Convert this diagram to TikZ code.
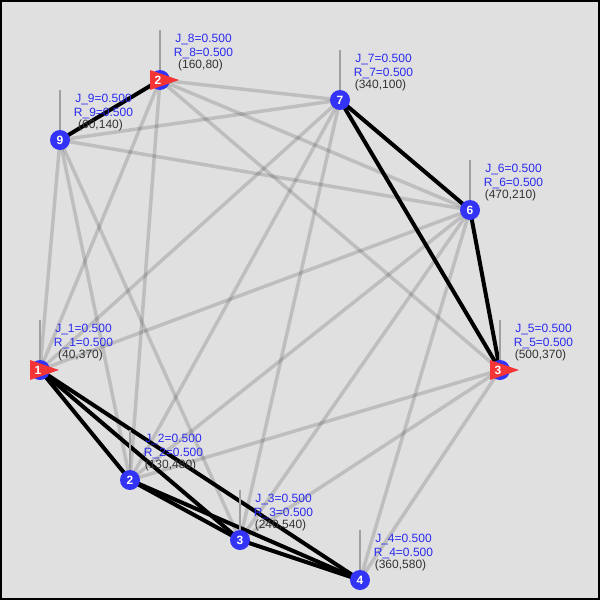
\documentclass[tikz,border=0pt]{standalone}
\usepackage{fontspec}
\setmainfont{Liberation Sans}
\definecolor{bgcol}{HTML}{E0E0E0}
\definecolor{nodeblue}{HTML}{3333F5}
\definecolor{flagred}{HTML}{F53535}
\definecolor{labelblue}{HTML}{2A2AF0}
\definecolor{tickgray}{HTML}{A0A0A0}
\definecolor{xytext}{HTML}{333333}
\pgfdeclarelayer{backdrop}
\pgfdeclarelayer{edges}
\pgfsetlayers{backdrop,edges,main}
\begin{document}
\begin{tikzpicture}[x=1pt,y=-1pt,
  vtx/.style={circle, fill=nodeblue, minimum size=20pt, inner sep=0pt, text=white,
    font=\bfseries\fontsize{12}{12}\selectfont},
  grayedge/.style={line width=3.5pt, draw=black, draw opacity=0.15},
  blackedge/.style={line width=4pt, draw=black},
  tickline/.style={line width=1.3pt, draw=tickgray},
  flagnum/.style={inner sep=0pt, text=white, font=\bfseries\fontsize{12}{12}\selectfont},
  jrtext/.style={inner sep=0pt, anchor=base, text=labelblue, font=\fontsize{12}{12}\selectfont},
  xytxt/.style={inner sep=0pt, anchor=base, text=xytext, font=\fontsize{12}{12}\selectfont}]
\useasboundingbox (0,0) rectangle (600,600);
\begin{pgfonlayer}{backdrop}
  \fill[bgcol] (0,0) rectangle (600,600);
  \draw[line width=2pt] (1,1) rectangle (599,599);
\end{pgfonlayer}

% nodes
\node[vtx] (n1) at (40,370) {};
\node[vtx] (n2) at (130,480) {2};
\node[vtx] (n3) at (240,540) {3};
\node[vtx] (n4) at (360,580) {4};
\node[vtx] (n5) at (500,370) {};
\node[vtx] (n6) at (470,210) {6};
\node[vtx] (n7) at (340,100) {7};
\node[vtx] (n8) at (160,80) {};
\node[vtx] (n9) at (60,140) {9};

\begin{pgfonlayer}{edges}
  % gray edges
  \foreach \a/\b in {9/7,9/6,9/1,9/2,9/3,8/7,8/6,8/5,8/1,8/2,
                     7/1,7/2,7/3,6/1,6/2,6/3,6/4,5/2,5/3,5/4}
    \draw[grayedge] (n\a.center) -- (n\b.center);
  % black edges
  \foreach \a/\b in {8/9,7/6,7/5,6/5,1/2,1/3,1/4,2/3,2/4,3/4}
    \draw[blackedge] (n\a.center) -- (n\b.center);
  % ticks
  \foreach \i in {1,...,9}
    \draw[tickline] (n\i.center) -- ++(0,-50);
\end{pgfonlayer}

% flags
\foreach \i/\k in {8/2,1/1,5/3}{
  \fill[flagred] (n\i.center) ++(-10,-10) -- ++(0,20) -- ++(29,-10) -- cycle;
  \node[flagnum] (f\i) at ([xshift=-2pt]n\i.center) {\k};
}

% labels
\foreach \i/\c in {1/{(40,370)},2/{(130,480)},3/{(240,540)},4/{(360,580)},5/{(500,370)},
                   6/{(470,210)},7/{(340,100)},8/{(160,80)},9/{(60,140)}}{
  \node[jrtext] (j\i) at ([shift={(43.5,-38)}]n\i.center) {J\_\i=0.500};
  \node[jrtext] (r\i) at ([shift={(43.5,-24)}]n\i.center) {R\_\i=0.500};
  \node[xytxt] (c\i) at ([shift={(40.5,-12)}]n\i.center) {\c};
}
\end{tikzpicture}
\end{document}
